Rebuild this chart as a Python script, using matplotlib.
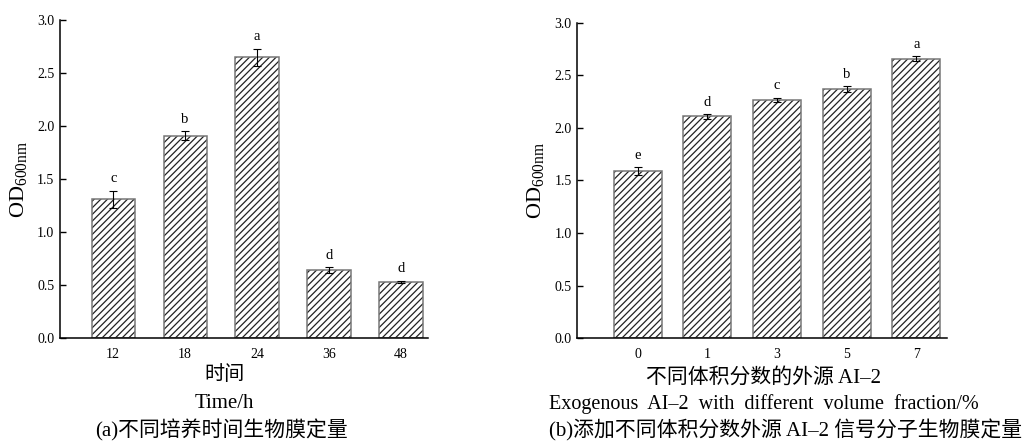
import matplotlib
matplotlib.use('Agg')
import matplotlib.pyplot as plt

plt.rcParams['font.family'] = ['Liberation Serif', 'Noto Sans CJK SC']
plt.rcParams['mathtext.fontset'] = 'custom'
plt.rcParams['mathtext.rm'] = 'Liberation Serif'
plt.rcParams['hatch.linewidth'] = 0.9

# (a) biofilm at different culture times
time_labels = ['12', '18', '24', '36', '48']
time_od = [1.31, 1.91, 2.65, 0.64, 0.53]
time_err = [0.08, 0.04, 0.08, 0.03, 0.01]
time_sig = ['c', 'b', 'a', 'd', 'd']

# (b) biofilm with exogenous AI-2
frac_labels = ['0', '1', '3', '5', '7']
frac_od = [1.59, 2.11, 2.27, 2.37, 2.66]
frac_err = [0.04, 0.02, 0.02, 0.03, 0.025]
frac_sig = ['e', 'd', 'c', 'b', 'a']

fig = plt.figure(figsize=(10.25, 4.45), dpi=100)
ax1 = fig.add_axes([0.0585, 0.2404, 0.359, 0.7146])
ax2 = fig.add_axes([0.563, 0.2404, 0.361, 0.708])


def draw_panel(ax, labels, vals, errs, sig, width, xlim):
    x = range(len(vals))
    # hatch drawn in dark colour, outline in grey on top
    ax.bar(x, vals, width=width, color='white', edgecolor='#222222',
           linewidth=0, hatch='/////')
    ax.bar(x, vals, width=width, fill=False, edgecolor='#777777', linewidth=1.1)
    ax.errorbar(x, vals, yerr=errs, fmt='none', ecolor='black',
                elinewidth=0.8, capsize=3, capthick=0.8)
    for xi, v, e, s in zip(x, vals, errs, sig):
        ax.text(xi, v + e + 0.05, s, ha='center', va='bottom', fontsize=10.5)
    ax.set_xlim(*xlim)
    ax.set_ylim(0, 3.0)
    ax.set_yticks([0.0, 0.5, 1.0, 1.5, 2.0, 2.5, 3.0])
    ax.set_yticklabels(['%.1f' % t for t in ax.get_yticks()])
    ax.set_xticks(list(x))
    ax.set_xticklabels(labels)
    ax.tick_params(axis='y', direction='in', length=4, width=1.0,
                   labelsize=10, pad=4)
    ax.tick_params(axis='x', length=0, labelsize=10, pad=7)
    for side in ['top', 'right']:
        ax.spines[side].set_visible(False)
    for side in ['left', 'bottom']:
        ax.spines[side].set_linewidth(1.1)
    ax.set_ylabel(r'$\mathrm{OD}_{\mathrm{600nm}}$', fontsize=16, labelpad=5)


draw_panel(ax1, time_labels, time_od, time_err, time_sig, 0.6, (-0.74, 4.375))
draw_panel(ax2, frac_labels, frac_od, frac_err, frac_sig, 0.69, (-0.87, 4.44))

# axis titles and captions
fig.text(224 / 1025, 1 - 376 / 445, '时间', ha='center', va='center',
         fontsize=14.5, fontweight='light')
fig.text(224 / 1025, 1 - 403 / 445, 'Time/h', ha='center', va='center', fontsize=15)
fig.text(222 / 1025, 1 - 430 / 445, '(a)不同培养时间生物膜定量', ha='center',
         va='center', fontsize=15, fontweight='light')

fig.text(764 / 1025, 1 - 378 / 445, '不同体积分数的外源 AI–2', ha='center',
         va='center', fontsize=15, fontweight='light')
fig.text(764 / 1025, 1 - 404 / 445,
         'Exogenous  AI–2  with  different  volume  fraction/%',
         ha='center', va='center', fontsize=14.5)
fig.text(786 / 1025, 1 - 430 / 445, '(b)添加不同体积分数外源 AI–2 信号分子生物膜定量',
         ha='center', va='center', fontsize=15, fontweight='light')

fig.savefig('out.png', dpi=100)
